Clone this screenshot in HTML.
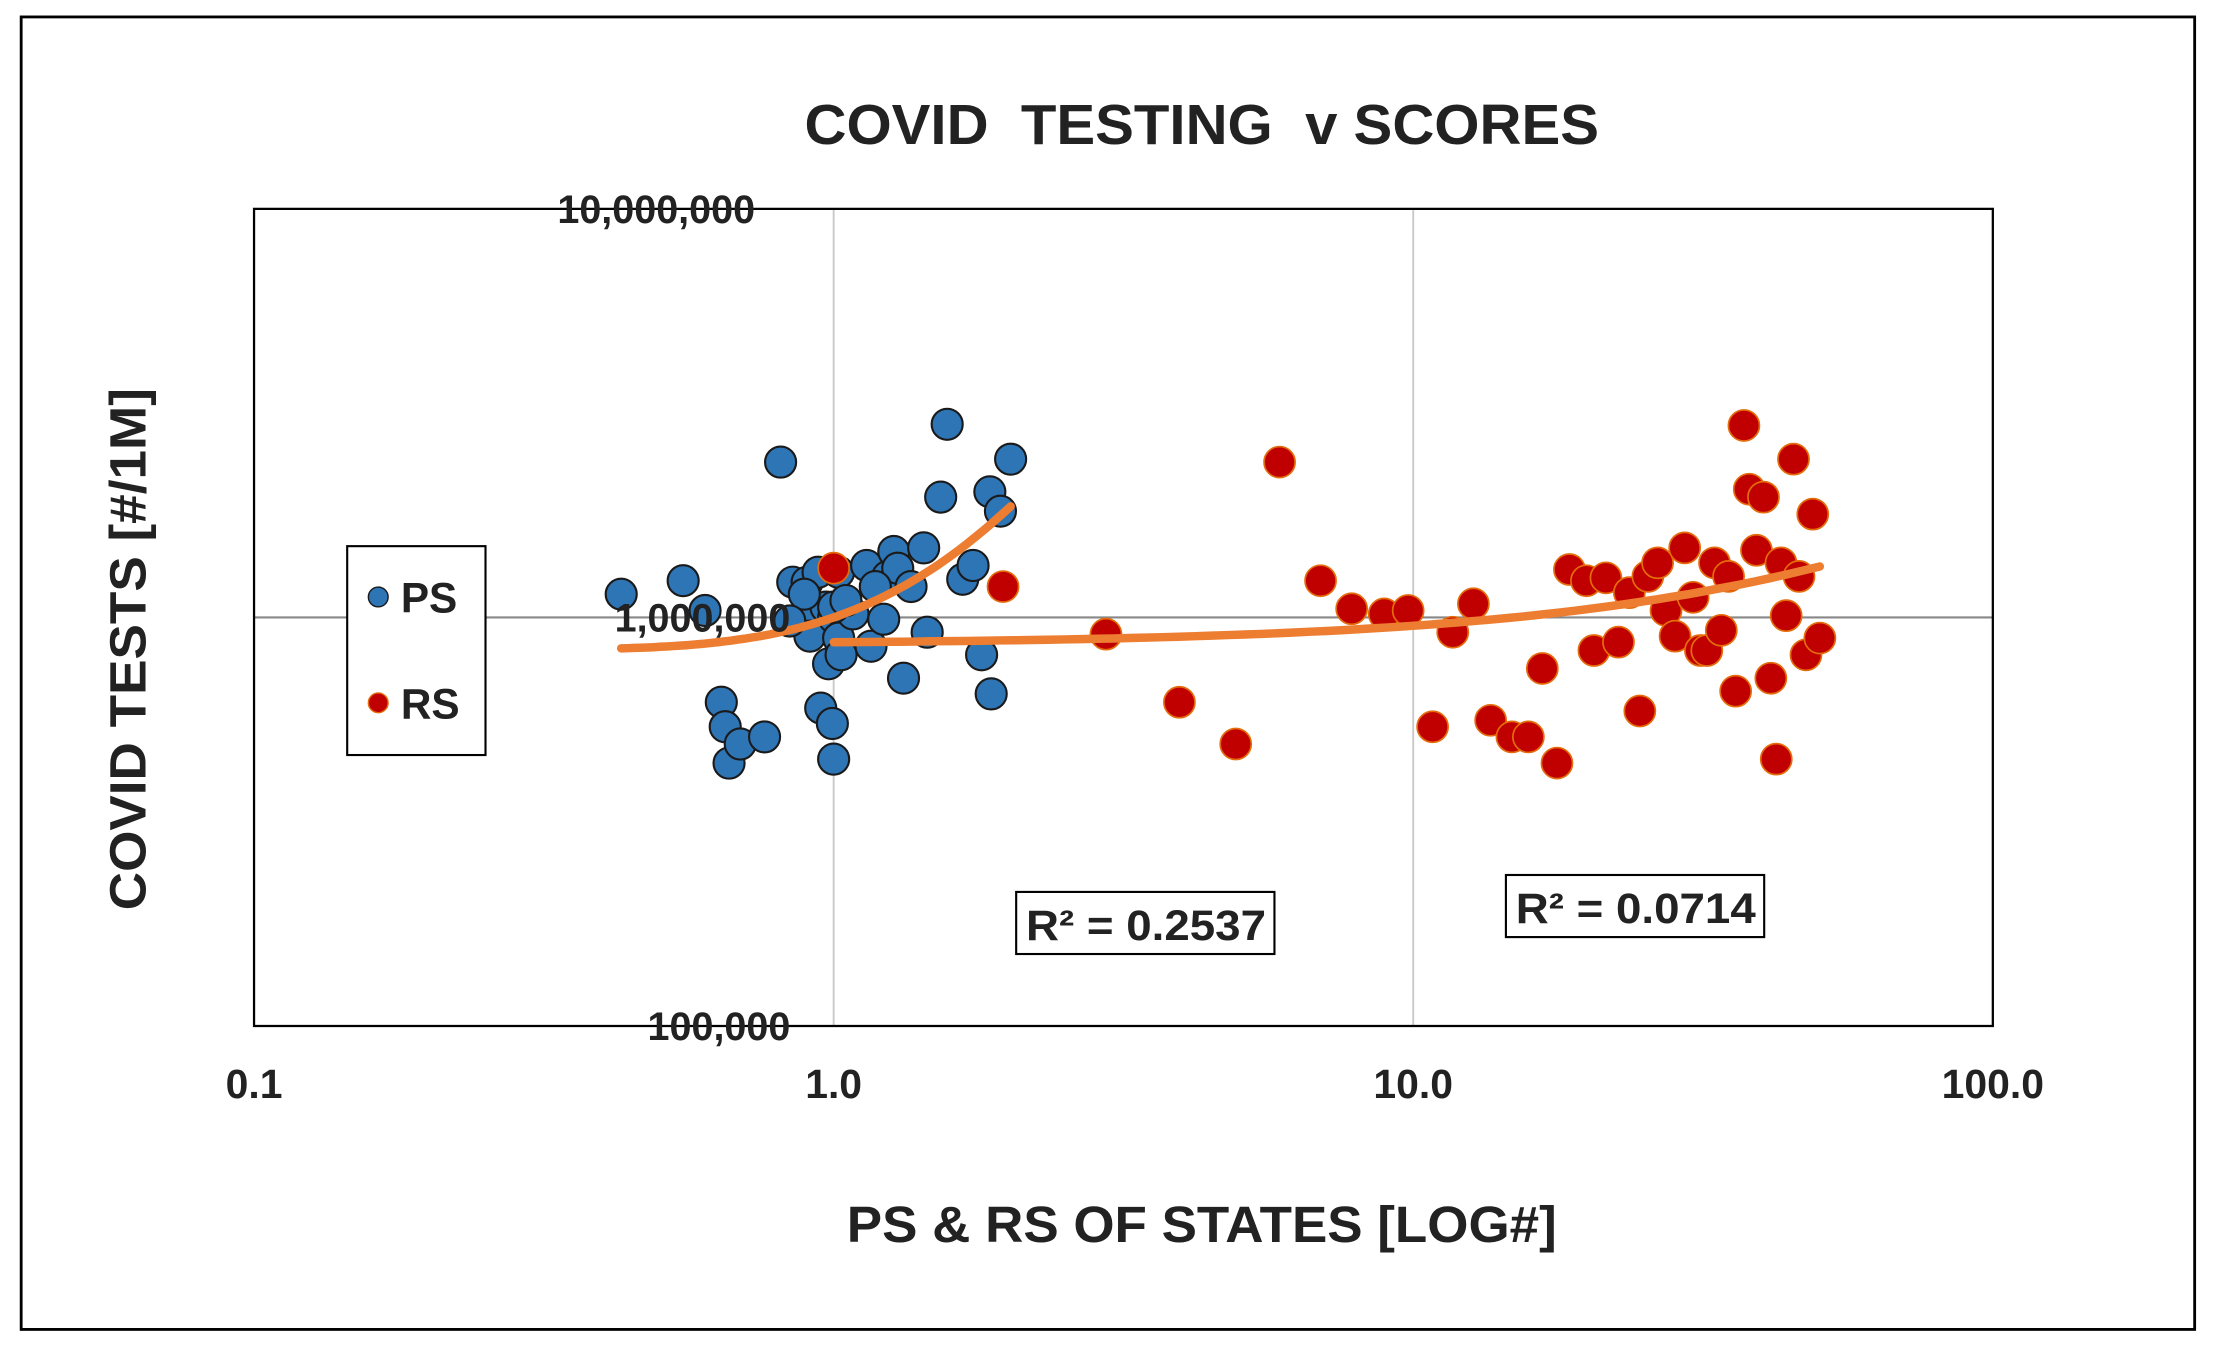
<!DOCTYPE html>
<html><head><meta charset="utf-8"><style>
html,body{margin:0;padding:0;background:#fff;}
svg{display:block;font-family:"Liberation Sans",Arial,sans-serif;}
</style></head><body>
<svg id="chart" width="2213" height="1352" viewBox="0 0 1568 958" preserveAspectRatio="none">
<rect x="15" y="12" width="1540" height="930" fill="#fff" stroke="#000" stroke-width="2"/>
<text x="570" y="102" font-size="40" font-weight="bold" fill="#222" textLength="563" lengthAdjust="spacingAndGlyphs">COVID&#160;&#160;TESTING&#160; v SCORES</text>
<g id="grid"></g>
<rect x="180" y="148" width="1232" height="579" fill="none" stroke="#000" stroke-width="1.6"/>
<g id="marks"></g>
<g id="ticks"></g>
<text x="600" y="880" font-size="36" font-weight="bold" fill="#222" textLength="503" lengthAdjust="spacingAndGlyphs">PS &amp; RS OF STATES [LOG#]</text>
<text transform="translate(103,645) rotate(-90)" font-size="36" font-weight="bold" fill="#222" textLength="370" lengthAdjust="spacingAndGlyphs">COVID TESTS [#/1M]</text>
<g>
<rect x="246" y="387" width="98" height="148" fill="#fff" stroke="#000" stroke-width="1.5"/>
<circle cx="268" cy="423" r="7" fill="#2e75b6" stroke="#1a1a1a" stroke-width="1"/>
<text x="284" y="434" font-size="30" font-weight="bold" fill="#222">PS</text>
<circle cx="268" cy="498" r="7" fill="#c00000" stroke="#e46c0a" stroke-width="1"/>
<text x="284" y="509" font-size="30" font-weight="bold" fill="#222">RS</text>
</g>
<g>
<rect x="720" y="632" width="183" height="44" fill="#fff" stroke="#000" stroke-width="1.5"/>
<text x="727" y="666" font-size="30" font-weight="bold" fill="#222" textLength="170" lengthAdjust="spacingAndGlyphs">R² = 0.2537</text>
</g>
<g>
<rect x="1067" y="620" width="183" height="44" fill="#fff" stroke="#000" stroke-width="1.5"/>
<text x="1074" y="654" font-size="30" font-weight="bold" fill="#222" textLength="170" lengthAdjust="spacingAndGlyphs">R² = 0.0714</text>
</g>
</svg>
<script>
const psX=[0.43,0.55,0.60,0.64,0.65,0.66,0.69,0.76,0.81,0.85,0.88,0.90,0.91,0.94,0.97,0.98,1.0,1.02,1.02,1.03,0.95,0.995,1.0,1.08,1.14,1.16,1.22,1.24,1.27,1.29,1.32,1.36,1.43,1.45,1.53,1.57,1.67,1.74,1.80,1.86,1.87,1.94,2.02,1.0,1.05,0.89,0.84,1.18];
const psY=[1.14,1.23,1.04,0.62,0.54,0.44,0.49,0.51,2.40,1.22,0.99,1.22,0.90,1.29,1.06,0.77,1.0,0.89,1.29,0.81,0.60,0.55,0.45,1.02,1.34,0.85,0.99,1.26,1.45,1.32,0.71,1.19,1.48,0.92,1.97,2.97,1.24,1.34,0.81,2.03,0.65,1.82,2.44,1.06,1.10,1.14,0.98,1.19];
const rsX=[1.0,1.96,2.95,3.95,4.94,5.88,6.92,7.83,8.91,9.8,10.8,11.7,12.7,13.6,14.8,15.8,16.7,17.7,18.6,19.9,20.5,21.5,22.6,23.6,24.6,25.4,26.4,27.3,28.3,29.4,30.4,31.3,32.1,33.1,34.0,35.0,36.0,37.2,38.0,39.1,40.2,41.4,42.3,43.1,44.0,45.3,46.3,47.6,48.9,50.3];
const rsY=[1.32,1.19,0.91,0.62,0.49,2.40,1.23,1.05,1.02,1.04,0.54,0.92,1.08,0.56,0.51,0.51,0.75,0.44,1.31,1.23,0.83,1.25,0.87,1.15,0.59,1.26,1.36,1.04,0.90,1.48,1.12,0.83,0.83,1.36,0.93,1.26,0.66,2.95,2.06,1.46,1.97,0.71,0.45,1.36,1.01,2.44,1.26,0.81,1.79,0.89];
const psTrend=[0.874,-0.234,0.36];
const rsTrend=[0.86,0.0094];
const xTicks=[0.1,1,10,100];
const xTickLabels=["0.1","1.0","10.0","100.0"];
const yTicks=[10,1,0.1];
const yTickLabels=["10,000,000","1,000,000","100,000"];

const NS="http://www.w3.org/2000/svg";
const X0=180,X1=1412,Y0=727,Y1=148;
function xs(v){return X0+(Math.log10(v)+1)/3*(X1-X0);}
function ys(v){return Y0-(Math.log10(v)+1)/2*(Y0-Y1);}
function mk(tag,attrs,parent){const e=document.createElementNS(NS,tag);for(const k in attrs)e.setAttribute(k,attrs[k]);parent.appendChild(e);return e;}
const grid=document.getElementById('grid'),marks=document.getElementById('marks'),ticks=document.getElementById('ticks');
xTicks.forEach((t,i)=>{
  if(i>0&&i<xTicks.length-1){const l=mk('line',{x1:xs(t),x2:xs(t),y1:Y1,y2:Y0,stroke:'#c8c8c8','stroke-width':1.3},grid);
  
  }
  const tx=mk('text',{x:xs(t),y:778,'text-anchor':'middle','font-size':29,'font-weight':'bold',fill:'#222'},ticks);
  tx.textContent=xTickLabels[i];
  
  
});
yTicks.forEach((t,i)=>{
  if(t===1){const l=mk('line',{x1:X0,x2:X1,y1:ys(t),y2:ys(t),stroke:'#888','stroke-width':1.5},grid);
  
  }
  const xe=t===10?535:560;
  const tx=mk('text',{x:xe,y:ys(t)+10,'text-anchor':'end','font-size':28,'font-weight':'bold',fill:'#222'},ticks);
  tx.textContent=yTickLabels[i];
  
  
});
psX.forEach((x,i)=>{
  const c=mk('circle',{cx:xs(x),cy:ys(psY[i]),r:11,fill:'#2e75b6',stroke:'#1a1a1a','stroke-width':1.5},marks);
  
  
});
rsX.forEach((x,i)=>{
  const c=mk('circle',{cx:xs(x),cy:ys(rsY[i]),r:11,fill:'#c00000',stroke:'#e46c0a','stroke-width':1.2},marks);
  
  
});
function trend(xmin,xmax,f){let d='';for(let k=0;k<=60;k++){const x=xmin*Math.pow(xmax/xmin,k/60);d+=(k?'L':'M')+xs(x).toFixed(1)+','+ys(f(x)).toFixed(1);}return d;}
const t1=mk('path',{d:trend(Math.min(...psX),Math.max(...psX),x=>psTrend[0]+psTrend[1]*x+psTrend[2]*x*x),fill:'none',stroke:'#ed7d31','stroke-width':6,'stroke-linecap':'round'},marks);


const t2=mk('path',{d:trend(Math.min(...rsX),Math.max(...rsX),x=>rsTrend[0]+rsTrend[1]*x),fill:'none',stroke:'#ed7d31','stroke-width':6,'stroke-linecap':'round'},marks);


</script>
</body></html>
